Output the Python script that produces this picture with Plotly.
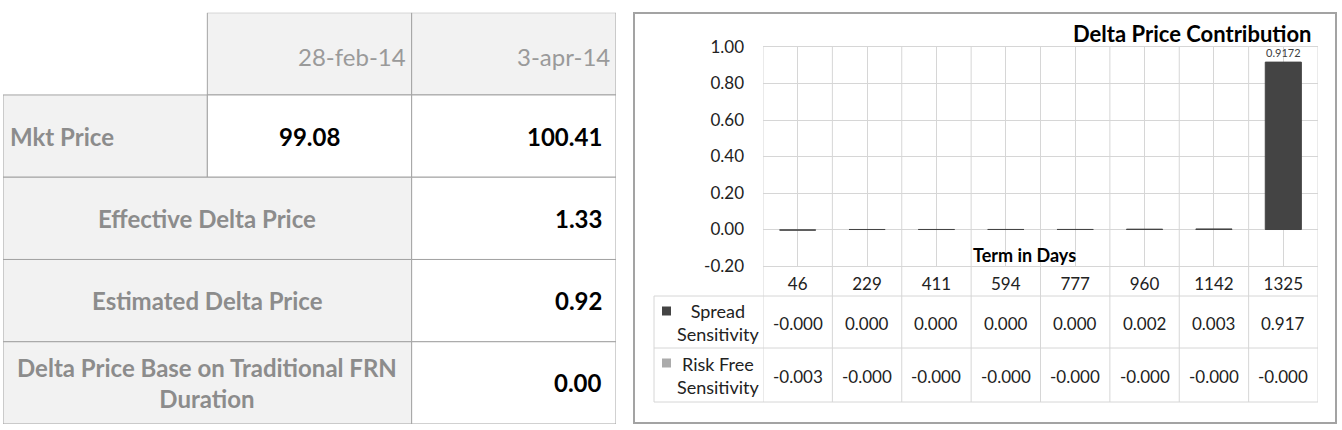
import plotly.graph_objects as go

W, H = 1342, 430

# ---------------- data ----------------
# left summary table
dates = ["28-feb-14", "3-apr-14"]
mkt_label = "Mkt Price"
mkt_prices = [99.08, 100.41]
delta_labels = ["Effective Delta Price", "Estimated Delta Price",
                "Delta Price Base on Traditional FRN<br>Duration"]
delta_values = [1.33, 0.92, 0.00]

# right chart
chart_title = "Delta Price Contribution"
x_title = "Term in Days"
terms = ["46", "229", "411", "594", "777", "960", "1142", "1325"]
spread = [-0.0001, 0.0001, 0.0002, 0.0003, 0.0004, 0.0018, 0.0031, 0.9172]
risk_free = [-0.0030, -0.0002, -0.0002, -0.0001, -0.0001, -0.0001, -0.0001, -0.0001]
series_names = ["Spread<br>Sensitivity", "Risk Free<br>Sensitivity"]
y_ticks = [-0.2, 0.0, 0.2, 0.4, 0.6, 0.8, 1.0]

# ---------------- style ----------------
FONT = "Lato"
DARK = "#444444"
LIGHT = "#ababab"
GRID = "#d6d6d6"
BORDER = "#a3a3a3"
LABEL_GRAY = "#8c8c8c"
HEAD_GRAY = "#9a9a9a"
CELL_BG = "#f2f2f2"
TFS = 24  # left table font size


def px(x):
    return x / W


def py(y):
    return 1 - y / H


fig = go.Figure()

fig.add_trace(go.Bar(
    x=terms, y=risk_free, name="Risk Free Sensitivity",
    marker=dict(color=LIGHT, line=dict(color=LIGHT, width=1)),
    xaxis="x", yaxis="y", hoverinfo="skip",
))
fig.add_trace(go.Bar(
    x=terms, y=spread, name="Spread Sensitivity",
    marker=dict(color=DARK, line=dict(color=DARK, width=1)),
    text=[f"{v:.4f}" if v == max(spread) else "" for v in spread],
    textposition="outside", cliponaxis=False,
    textfont=dict(size=11, color="#404040", family=FONT),
    xaxis="x", yaxis="y", hoverinfo="skip",
))

shapes = []
annotations = []

# ---------------- left table (on its own hidden axes) ----------------
line_style = dict(color=BORDER, width=1)
for c in range(2):
    shapes.append(dict(type="rect", xref="x2", yref="y2", x0=1 + c, x1=2 + c, y0=0, y1=1,
                       fillcolor=CELL_BG, line=line_style, layer="below"))
    annotations.append(dict(xref="x2", yref="y2", x=2 + c, y=0.5, xanchor="right", yanchor="middle",
                            xshift=-4, yshift=-3, showarrow=False, text=dates[c],
                            font=dict(size=TFS, color=HEAD_GRAY, family=FONT)))
shapes.append(dict(type="rect", xref="x2", yref="y2", x0=0, x1=1, y0=1, y1=2,
                   fillcolor=CELL_BG, line=line_style, layer="below"))
for c in range(2):
    shapes.append(dict(type="rect", xref="x2", yref="y2", x0=1 + c, x1=2 + c, y0=1, y1=2,
                       fillcolor="white", line=line_style, layer="below"))
annotations.append(dict(xref="x2", yref="y2", x=0, y=1.5, xanchor="left", yanchor="middle",
                        xshift=5, showarrow=False, text=f"<b>{mkt_label}</b>",
                        font=dict(size=TFS, color=LABEL_GRAY, family=FONT)))
annotations.append(dict(xref="x2", yref="y2", x=1.5, y=1.5, xanchor="center", yanchor="middle",
                        showarrow=False, text=f"<b>{mkt_prices[0]:.2f}</b>",
                        font=dict(size=TFS, color="black", family=FONT)))
annotations.append(dict(xref="x2", yref="y2", x=3, y=1.5, xanchor="right", yanchor="middle",
                        xshift=-12, showarrow=False, text=f"<b>{mkt_prices[1]:.2f}</b>",
                        font=dict(size=TFS, color="black", family=FONT)))
for i, (lab, val) in enumerate(zip(delta_labels, delta_values)):
    r = 2 + i
    shapes.append(dict(type="rect", xref="x2", yref="y2", x0=0, x1=2, y0=r, y1=r + 1,
                       fillcolor=CELL_BG, line=line_style, layer="below"))
    shapes.append(dict(type="rect", xref="x2", yref="y2", x0=2, x1=3, y0=r, y1=r + 1,
                       fillcolor="white", line=line_style, layer="below"))
    annotations.append(dict(xref="x2", yref="y2", x=1, y=r + 0.5, xanchor="center", yanchor="middle",
                            showarrow=False, text=f"<b>{lab}</b>",
                            font=dict(size=TFS, color=LABEL_GRAY, family=FONT)))
    annotations.append(dict(xref="x2", yref="y2", x=3, y=r + 0.5, xanchor="right", yanchor="middle",
                            xshift=-12, showarrow=False, text=f"<b>{val:.2f}</b>",
                            font=dict(size=TFS, color="black", family=FONT)))

# ---------------- right chart frame ----------------
shapes.append(dict(type="rect", xref="paper", yref="paper", x0=px(634), x1=px(1336),
                   y0=py(423), y1=py(13), line=dict(color=BORDER, width=2), layer="below"))

n = len(terms)
for i in range(n + 1):
    shapes.append(dict(type="line", xref="x", yref="paper", x0=i - 0.5, x1=i - 0.5,
                       y0=py(402), y1=py(47), line=dict(color=GRID, width=1), layer="below"))
for yy in (296, 348, 402):
    shapes.append(dict(type="line", xref="paper", yref="paper", x0=px(654), x1=px(1318),
                       y0=py(yy), y1=py(yy), line=dict(color=GRID, width=1), layer="below"))
shapes.append(dict(type="line", xref="paper", yref="paper", x0=px(654), x1=px(654),
                   y0=py(296), y1=py(402), line=dict(color=GRID, width=1), layer="below"))

row_centers = [322, 375]
key_colors = [DARK, LIGHT]
key_y = [311, 363]
for name, yc, col, ky in zip(series_names, row_centers, key_colors, key_y):
    shapes.append(dict(type="rect", xref="paper", yref="paper", x0=px(662), x1=px(671),
                       y0=py(ky + 4.5), y1=py(ky - 4.5), fillcolor=col, line=dict(width=0)))
    annotations.append(dict(xref="paper", yref="paper", x=px(718), y=py(yc), xanchor="center",
                            yanchor="middle", showarrow=False, text=name,
                            font=dict(size=18, color="#222222", family=FONT)))

for vals, yc in zip([spread, risk_free], row_centers):
    for i, v in enumerate(vals):
        annotations.append(dict(xref="x", yref="paper", x=i, y=py(yc + 1), xanchor="center",
                                yanchor="middle", showarrow=False, text=f"{v:.3f}",
                                font=dict(size=17, color="#222222", family=FONT)))

annotations.append(dict(xref="paper", yref="paper", x=px(1314), y=py(33), xanchor="right",
                        yanchor="middle", showarrow=False, text=f"<b>{chart_title}</b>",
                        font=dict(size=22, color="black", family=FONT)))
annotations.append(dict(xref="paper", yref="paper", x=px(1024), y=py(255), xanchor="center",
                        yanchor="middle", showarrow=False, text=f"<b>{x_title}</b>",
                        font=dict(size=18, color="black", family=FONT)))

fig.update_layout(
    width=W, height=H,
    margin=dict(l=0, r=0, t=0, b=0, pad=0, autoexpand=False),
    paper_bgcolor="white", plot_bgcolor="white",
    font=dict(family=FONT, color="#222222"),
    barmode="relative", bargap=0.48,
    showlegend=False,
    xaxis=dict(domain=[px(763), px(1318)], type="category", categoryorder="array",
               categoryarray=terms, range=[-0.5, n - 0.5], autorange=False,
               showgrid=True, gridcolor=GRID,
               gridwidth=1, showline=True, linecolor=GRID, linewidth=1, mirror=True,
               ticks="", tickfont=dict(size=17, color="#222222", family=FONT),
               ticklabelstandoff=3, zeroline=False, fixedrange=True, automargin=False),
    yaxis=dict(domain=[py(266), py(47)], range=[-0.2, 1.0], autorange=False, tickvals=y_ticks,
               ticktext=[f"{v:.2f}" for v in y_ticks], showgrid=True, gridcolor=GRID,
               gridwidth=1, zeroline=False, showline=False, ticks="",
               tickfont=dict(size=17, color="#222222", family=FONT),
               ticklabelstandoff=18, fixedrange=True, automargin=False),
    xaxis2=dict(domain=[px(3), px(616)], range=[0, 3], visible=False, fixedrange=True),
    yaxis2=dict(domain=[py(424), py(12.7)], range=[5, 0], visible=False, fixedrange=True),
    shapes=shapes,
    annotations=annotations,
)

fig.write_html("out.html")
